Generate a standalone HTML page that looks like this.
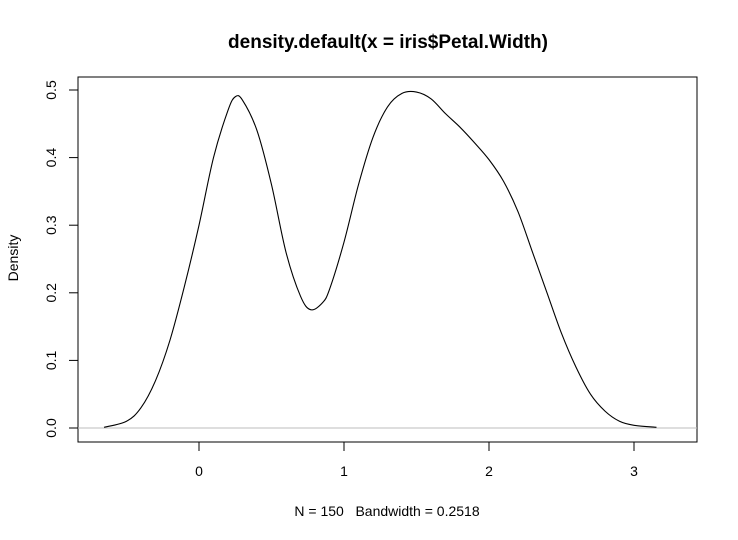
<!DOCTYPE html>
<html><head><meta charset="utf-8"><style>
body{margin:0;background:#fff;}
svg{display:block;font-family:"Liberation Sans",Arial,sans-serif;}
</style></head><body>
<svg id="chart" width="738" height="540" viewBox="0 0 738 540">
<rect width="738" height="540" fill="#fff"/>
<text x="388" y="48" text-anchor="middle" font-size="19" font-weight="bold">density.default(x = iris$Petal.Width)</text>
<text x="387" y="516" text-anchor="middle" font-size="14" style="white-space:pre">N = 150   Bandwidth = 0.2518</text>
<text transform="translate(18,258) rotate(-90)" text-anchor="middle" font-size="14">Density</text>
<rect x="78" y="77" width="619" height="365" fill="none" stroke="#000" stroke-width="1"/>
<g id="xaxis"></g>
<g id="yaxis"></g>
<line x1="78" x2="697" y1="428" y2="428" stroke="#bebebe"/>
<path id="curve" fill="none" stroke="#000" stroke-width="1.1"/>
</svg>
<script>
const xs=[-0.655,-0.5,-0.4,-0.3,-0.2,-0.1,0,0.1,0.2,0.25,0.3,0.4,0.5,0.6,0.7,0.77,0.85,0.9,1.0,1.1,1.2,1.3,1.4,1.5,1.6,1.7,1.8,1.9,2.0,2.1,2.2,2.3,2.4,2.5,2.6,2.7,2.8,2.9,3.0,3.155];
const ys=[0.001,0.01,0.03,0.07,0.13,0.21,0.30,0.40,0.47,0.49,0.485,0.44,0.36,0.26,0.195,0.175,0.185,0.205,0.275,0.36,0.43,0.475,0.495,0.497,0.487,0.465,0.445,0.422,0.397,0.365,0.32,0.26,0.2,0.14,0.09,0.05,0.025,0.01,0.004,0.001];
const xTicks=[0,1,2,3];
const yTicks=[0,0.1,0.2,0.3,0.4,0.5];
const yTickLabels=["0.0","0.1","0.2","0.3","0.4","0.5"];
const NS="http://www.w3.org/2000/svg";
const X=v=>199+v*145, Y=v=>428-v*676;
function mk(t,a,p){const e=document.createElementNS(NS,t);for(const k in a)e.setAttribute(k,a[k]);p.appendChild(e);return e;}
const xa=document.getElementById('xaxis');
mk('line',{x1:X(0),x2:X(3),y1:442,y2:442,stroke:'#000'},xa);
xTicks.forEach(v=>{
 const l=mk('line',{x1:X(v),x2:X(v),y1:442,y2:451,stroke:'#000'},xa);
 
 
 const t=mk('text',{x:X(v),y:476,'text-anchor':'middle','font-size':14},xa);t.textContent=v;
 
 
});
const ya=document.getElementById('yaxis');
mk('line',{x1:78,x2:78,y1:Y(0),y2:Y(0.5),stroke:'#000'},ya);
yTicks.forEach((v,i)=>{
 const l=mk('line',{x1:69,x2:78,y1:Y(v),y2:Y(v),stroke:'#000'},ya);
 
 
 const t=mk('text',{transform:`translate(56,${Y(v)}) rotate(-90)`,'text-anchor':'middle','font-size':14},ya);t.textContent=yTickLabels[i];
 
 
});
const P=xs.map((x,i)=>[X(x),Y(ys[i])]);
let d=`M${P[0][0]},${P[0][1]}`;
for(let i=0;i<P.length-1;i++){
 const p0=P[Math.max(0,i-1)],p1=P[i],p2=P[i+1],p3=P[Math.min(P.length-1,i+2)];
 const c1=[p1[0]+(p2[0]-p0[0])/6,p1[1]+(p2[1]-p0[1])/6];
 const c2=[p2[0]-(p3[0]-p1[0])/6,p2[1]-(p3[1]-p1[1])/6];
 d+=` C${c1[0]},${c1[1]} ${c2[0]},${c2[1]} ${p2[0]},${p2[1]}`;
}
document.getElementById('curve').setAttribute('d',d);
</script>
</body></html>
